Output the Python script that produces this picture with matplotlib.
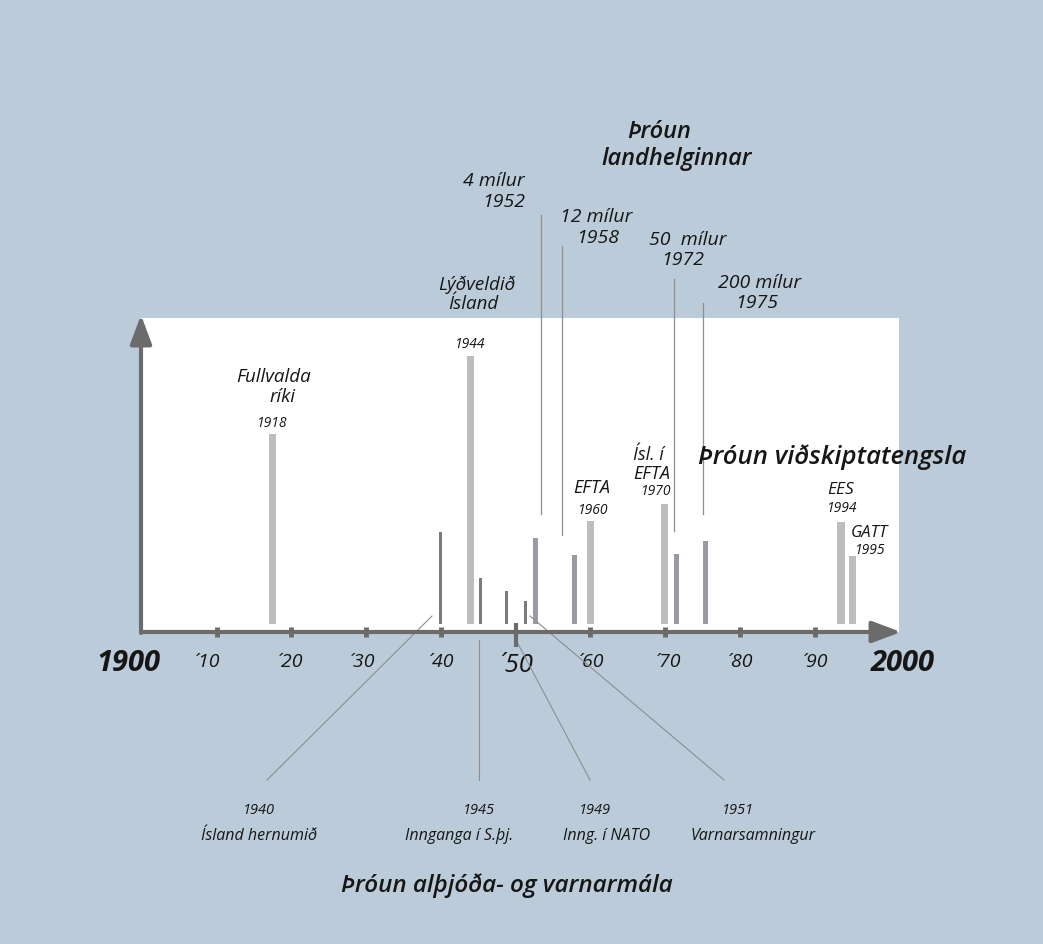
import matplotlib
matplotlib.use("Agg")
import matplotlib.pyplot as plt
from matplotlib.patches import Rectangle

plt.rcParams['font.family'] = ['Open Sans', 'DejaVu Sans']

# ---------------- data ----------------
# wide light bars (main events)
light_years = ["1918", "1944", "1960", "1970", "1994", "1995"]
light_x = [1917.5, 1944.0, 1960.0, 1969.9, 1993.5, 1995.0]
light_h = [190, 268, 103, 120, 102, 68]
# thin dark bars (defence / international)
dark_years = ["1940", "1945", "1949", "1951"]
dark_x = [1940.0, 1945.3, 1948.8, 1951.3]
dark_h = [92, 46, 33, 23]
# medium bars (fishing limits)
mid_years = ["1952", "1958", "1972", "1975"]
mid_x = [1952.7, 1957.9, 1971.5, 1975.4]
mid_h = [86, 69, 70, 83]

decades = [1910, 1920, 1930, 1940, 1950, 1960, 1970, 1980, 1990]
decade_labels = ["´10", "´20", "´30", "´40", "´50", "´60", "´70", "´80", "´90"]

# ---------------- layout helpers ----------------
W, H = 1043, 945
PX0, PPY = 141.8, 7.478      # pixel of year 1900, pixels per year
BASE = 625                   # pixel row of bar baseline


def X(px):
    return 1900 + (px - PX0) / PPY


def Y(py):
    return BASE - py


BG = '#bccbd9'
TXT = '#161616'
LEAD = '#8e8e8e'

fig = plt.figure(figsize=(W / 100, H / 100), dpi=100, facecolor=BG)
ax = fig.add_axes([0, 0, 1, 1])
ax.set_facecolor(BG)
ax.set_xlim(X(0), X(W))
ax.set_ylim(Y(H), Y(0))
ax.axis('off')

# white panel
ax.add_patch(Rectangle((X(141), Y(633)), X(899) - X(141), Y(319) - Y(633),
                       facecolor='white', edgecolor='none', zorder=1))

# bars
ax.bar(light_x, light_h, width=0.95, color='#bdbdbd', zorder=3)
ax.bar(dark_x, dark_h, width=0.42, color='#7b7b7b', zorder=3)
ax.bar(mid_x, mid_h, width=0.65, color='#9a9aa2', zorder=3)

# axes arrows
AX_C = '#6b6b6b'
ax.annotate('', xy=(X(901), Y(633)), xytext=(X(141), Y(633)),
            arrowprops=dict(arrowstyle='-|>,head_length=0.8,head_width=0.3', lw=3, color=AX_C,
                            mutation_scale=22, shrinkA=0, shrinkB=0), zorder=5)
ax.annotate('', xy=(X(141), Y(316)), xytext=(X(141), Y(634)),
            arrowprops=dict(arrowstyle='-|>,head_length=0.8,head_width=0.3', lw=3, color=AX_C,
                            mutation_scale=22, shrinkA=0, shrinkB=0), zorder=5)

# decade tick marks
for d in decades:
    if d == 1950:
        ax.plot([d, d], [Y(624), Y(648)], color=AX_C, lw=3, zorder=6,
                solid_capstyle='butt')
    else:
        ax.plot([d, d], [Y(628), Y(638)], color=AX_C, lw=3.5, zorder=6,
                solid_capstyle='butt')

# axis labels
ax.text(X(128), Y(664), "1900", fontsize=21, fontweight='bold', style='italic',
        color=TXT, ha='center', va='center')
ax.text(X(903), Y(664), "2000", fontsize=21, fontweight='bold', style='italic',
        color=TXT, ha='center', va='center')
label_px = [207, 290, 362, 441, 515, 591, 668, 740, 815]
for d, lab, lx in zip(decades, decade_labels, label_px):
    big = d == 1950
    ax.text(X(lx), Y(666 if big else 662), lab, fontsize=18.5 if big else 14,
            style='italic', color=TXT, ha='center', va='center')

# top leader lines (fishing limits)
for x0, y0, y1 in [(541, 216, 515), (561.7, 247, 536), (674.3, 280, 532), (703.3, 304, 515)]:
    ax.plot([X(x0), X(x0)], [Y(y0), Y(y1)], color=LEAD, lw=0.9, zorder=4)

# bottom leader lines (defence)
for (xa, ya), (xb, yb) in [((432, 617), (267, 781)), ((479, 641), (479, 781)),
                           ((516, 641), (590, 781)), ((530, 617), (724, 781))]:
    ax.plot([X(xa), X(xb)], [Y(ya), Y(yb)], color=LEAD, lw=0.8, zorder=4)


def t(s, px, py, size, ha='center', weight='medium'):
    ax.text(X(px), Y(py), s, fontsize=size, style='italic', fontweight=weight,
            color=TXT, ha=ha, va='center', zorder=7)


# top labels
t("Þróun", 659, 132, 17, weight='semibold')
t("landhelginnar", 677, 159, 17, weight='semibold')
t("4 mílur", 525, 181, 14, ha='right')
t(mid_years[0], 525, 202, 14, ha='right')
t("12 mílur", 596, 217, 14)
t(mid_years[1], 598, 238, 14)
t("50  mílur", 688, 240, 14)
t(mid_years[2], 683, 260, 14)
t("200 mílur", 760, 283, 14)
t(mid_years[3], 757, 303, 14)
t("Lýðveldið", 477, 285, 13.5)
t("Ísland", 473, 304, 13.5)
t(light_years[1], 470, 345, 10)
t("Fullvalda", 274, 377, 13.5)
t("ríki", 282, 397, 13.5)
t(light_years[0], 272, 424, 10)
t("EFTA", 592, 488, 13)
t(light_years[2], 593, 511, 10)
t("Ísl. í", 633, 455, 13, ha='left')
t("EFTA", 633, 474, 13, ha='left')
t(light_years[3], 641, 492, 10, ha='left')
t("Þróun viðskiptatengsla", 698, 457, 18.5, ha='left', weight='semibold')
t("EES", 841, 490, 12.5)
t(light_years[4], 842, 509, 10)
t("GATT", 869, 533, 12)
t(light_years[5], 870, 551, 10)

# bottom labels
t(dark_years[0], 259, 811, 10.5)
t("Ísland hernumið", 259, 836, 11.5)
t(dark_years[1], 479, 811, 10.5)
t("Innganga í S.þj.", 459, 836, 11.5)
t(dark_years[2], 595, 811, 10.5)
t("Inng. í NATO", 607, 836, 11.5)
t(dark_years[3], 738, 811, 10.5)
t("Varnarsamningur", 753, 836, 11.5)
t("Þróun alþjóða- og varnarmála", 507, 886, 17.5, weight='semibold')

fig.savefig("out.png", dpi=100, facecolor=BG)
